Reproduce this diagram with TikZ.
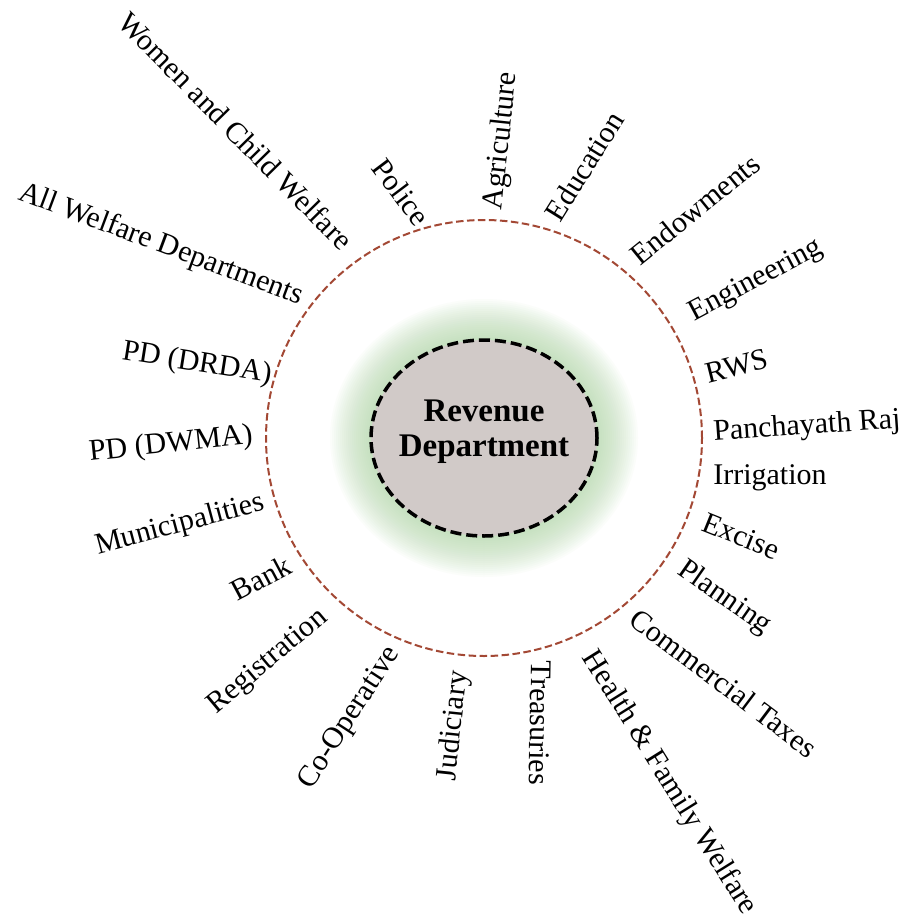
\documentclass[tikz,border=0pt]{standalone}
\usepackage{fontspec}
\setmainfont{Liberation Serif}
\usetikzlibrary{shapes.geometric}
\definecolor{ringbrown}{RGB}{163,72,52}
\definecolor{corefill}{RGB}{209,202,200}
\definecolor{glowgreen}{RGB}{170,212,160}
\begin{document}
\begin{tikzpicture}[x=1pt,y=-1pt,
  lbl/.style={font=\fontsize{30}{36}\selectfont, inner sep=0pt, text=black},
  ring/.style={draw=ringbrown, line width=2pt, dash pattern=on 7.5pt off 3.5pt},
  core/.style={ellipse, draw=black, line width=3.5pt, dash pattern=on 11pt off 5pt,
    fill=corefill, minimum width=226pt, minimum height=196pt, inner sep=0pt},
  coretext/.style={align=center, inner sep=0pt, font=\bfseries\fontsize{33}{35}\selectfont}]
\useasboundingbox (0,0) rectangle (909,923);
\fill[white] (0,0) rectangle (909,923);
\coordinate (c) at (484,438);
% green glow
\foreach \i in {0,...,21}
  \fill[glowgreen, opacity=0.045] (c) ellipse [x radius={112pt+2pt*\i}, y radius={97pt+2pt*\i}];
% ring
\draw[ring] (c) circle [radius=218pt];
% core
\node[core] (rev) at (c) {};
\node[coretext] (revtext) at ([yshift=6pt]rev.center) {Revenue\\Department};
% labels
\node[lbl, rotate=-45.5] (women) at (236,131) {Women and Child Welfare};
\node[lbl, rotate=-53] (police) at (401,192) {Police};
\node[lbl, rotate=-20.5] (allwelf) at (161,245) {All Welfare Departments};
\node[lbl, rotate=84] (agri) at (502,141) {Agriculture};
\node[lbl, rotate=58] (edu) at (584,166) {Education};
\node[lbl, rotate=39] (endow) at (695,209) {Endowments};
\node[lbl, rotate=28] (engg) at (756,281) {Engineering};
\node[lbl, rotate=14] (rws) at (737,366) {RWS};
\node[lbl, rotate=4] (praj) at (807,427) {Panchayath Raj};
\node[lbl, rotate=0] (irr) at (770,478) {Irrigation};
\node[lbl, rotate=-22] (excise) at (741,536) {Excise};
\node[lbl, rotate=-35] (plan) at (724,598) {Planning};
\node[lbl, rotate=-37] (ctax) at (724,683) {Commercial Taxes};
\node[lbl, rotate=-58] (health) at (669,783) {Health \& Family Welfare};
\node[lbl, rotate=-91] (treas) at (540,723) {Treasuries};
\node[lbl, rotate=84] (jud) at (454,726) {Judiciary};
\node[lbl, rotate=57] (coop) at (350,718) {Co-Operative};
\node[lbl, rotate=40] (reg) at (268,662) {Registration};
\node[lbl, rotate=28] (bank) at (261,578) {Bank};
\node[lbl, rotate=15] (muni) at (180,525) {Municipalities};
\node[lbl, rotate=6] (dwma) at (171,445) {PD (DWMA)};
\node[lbl, rotate=-9] (drda) at (197,364) {PD (DRDA)};
\end{tikzpicture}
\end{document}
